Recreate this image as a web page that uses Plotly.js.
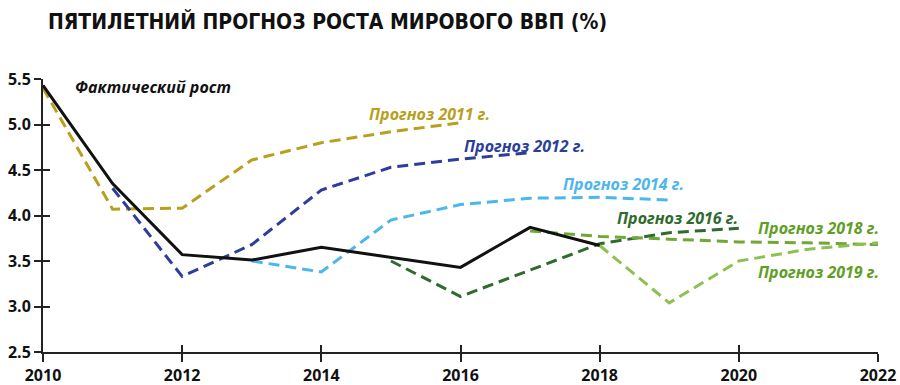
<!DOCTYPE html>
<html>
<head>
<meta charset="utf-8">
<script src="https://cdn.plot.ly/plotly-3.0.1.min.js"></script>
<style>html,body{margin:0;padding:0;background:#fff;}#chart{width:900px;height:385px;}</style>
</head>
<body>
<div id="chart"></div>
<script>
// ---- data ----
const actualYears = [2010, 2011, 2012, 2013, 2014, 2015, 2016, 2017, 2018];
const actualGrowth = [5.43, 4.35, 3.57, 3.51, 3.65, 3.54, 3.43, 3.87, 3.67];

const f2011Years = [2010, 2011, 2012, 2013, 2014, 2015, 2016];
const f2011Values = [5.40, 4.07, 4.08, 4.61, 4.80, 4.92, 5.02];

const f2012Years = [2011, 2012, 2013, 2014, 2015, 2016, 2017];
const f2012Values = [4.30, 3.33, 3.68, 4.28, 4.53, 4.62, 4.69];

const f2014Years = [2013, 2014, 2015, 2016, 2017, 2018, 2019];
const f2014Values = [3.50, 3.38, 3.95, 4.12, 4.19, 4.20, 4.17];

const f2016Years = [2015, 2016, 2017, 2018, 2019, 2020];
const f2016Values = [3.50, 3.11, 3.40, 3.69, 3.81, 3.86];

const f2018Years = [2017, 2018, 2019, 2020, 2021, 2022];
const f2018Values = [3.83, 3.77, 3.74, 3.71, 3.70, 3.68];

const f2019Years = [2018, 2019, 2020, 2021, 2022];
const f2019Values = [3.67, 3.04, 3.50, 3.63, 3.70];

const xTicks = [2010, 2012, 2014, 2016, 2018, 2020, 2022];
const yTicks = [2.5, 3.0, 3.5, 4.0, 4.5, 5.0, 5.5];
const yTickText = ['2.5', '3.0', '3.5', '4.0', '4.5', '5.0', '5.5'];

const labels = ['Фактический рост', 'Прогноз 2011 г.', 'Прогноз 2012 г.', 'Прогноз 2014 г.',
                'Прогноз 2016 г.', 'Прогноз 2018 г.', 'Прогноз 2019 г.'];

// ---- styles ----
const C = {
  actual: '#111111', f2011: '#B89F1C', f2012: '#2C3E9B', f2014: '#4DB6EA',
  f2016: '#2E6B2C', f2018: '#6FA834', f2019: '#8CC152'
};
const dash = '11px,6px';

function fc(x, y, color) {
  return {x: x, y: y, type: 'scatter', mode: 'lines', hoverinfo: 'skip',
          line: {color: color, width: 3, dash: dash}, showlegend: false};
}

const traces = [
  fc(f2011Years, f2011Values, C.f2011),
  fc(f2012Years, f2012Values, C.f2012),
  fc(f2014Years, f2014Values, C.f2014),
  fc(f2016Years, f2016Values, C.f2016),
  fc(f2018Years, f2018Values, C.f2018),
  fc(f2019Years, f2019Values, C.f2019),
  {x: actualYears, y: actualGrowth, type: 'scatter', mode: 'lines', hoverinfo: 'skip',
   line: {color: C.actual, width: 3}, showlegend: false},
  // helper trace for inside ticks
  {x: [2010], y: [2.5], xaxis: 'x2', yaxis: 'y2', type: 'scatter', mode: 'none',
   hoverinfo: 'skip', showlegend: false}
];

const labFont = (color) => ({family: 'Open Sans, DejaVu Sans', size: 16, color: color, weight: 'bold', style: 'italic'});
const tickFont = {family: 'Open Sans, DejaVu Sans', size: 16, color: '#111', weight: 'bold'};

const annotations = [
  {text: labels[0], x: 2011.58, y: 5.41, xanchor: 'center', color: C.actual},
  {text: labels[1], x: 2014.65, y: 5.12, xanchor: 'left', color: C.f2011},
  {text: labels[2], x: 2016.02, y: 4.76, xanchor: 'left', color: C.f2012},
  {text: labels[3], x: 2017.45, y: 4.35, xanchor: 'left', color: C.f2014},
  {text: labels[4], x: 2018.22, y: 3.97, xanchor: 'left', color: C.f2016},
  {text: labels[5], x: 2020.25, y: 3.86, xanchor: 'left', color: '#5E9E25'},
  {text: labels[6], x: 2020.25, y: 3.38, xanchor: 'left', color: '#5E9E25'}
].map(a => ({text: a.text, x: a.x, y: a.y, xref: 'x', yref: 'y', xanchor: a.xanchor,
             yanchor: 'middle', showarrow: false, font: labFont(a.color)}));

const layout = {
  width: 900, height: 385,
  margin: {l: 43, r: 22, t: 79, b: 33},
  paper_bgcolor: '#fff', plot_bgcolor: '#fff',
  title: {text: 'ПЯТИЛЕТНИЙ ПРОГНОЗ РОСТА МИРОВОГО ВВП (%)',
          x: 0.006, xanchor: 'left', xref: 'paper', yref: 'container', y: 0.943, yanchor: 'middle',
          font: {family: 'DejaVu Sans Condensed, Liberation Sans Narrow, DejaVu Sans', size: 21, color: '#111', weight: 'bold', stretch: 'condensed'}},
  xaxis: {range: [2010, 2022], tickvals: xTicks, ticktext: xTicks.map(String),
          showgrid: false, zeroline: false, showline: true, linecolor: '#222', linewidth: 2,
          ticks: 'outside', ticklen: 8, tickwidth: 2, tickcolor: '#222',
          ticklabeloverflow: 'allow', tickfont: tickFont, fixedrange: true},
  yaxis: {range: [2.5, 5.5], tickvals: yTicks, ticktext: yTickText,
          showgrid: false, zeroline: false, showline: true, linecolor: '#222', linewidth: 2,
          ticks: 'outside', ticklen: 7, tickwidth: 2, tickcolor: '#222',
          tickfont: tickFont, fixedrange: true},
  xaxis2: {range: [2010, 2022], tickvals: xTicks, overlaying: 'x', side: 'bottom',
           showgrid: false, zeroline: false, showline: false, showticklabels: false,
           ticks: 'inside', ticklen: 7, tickwidth: 2, tickcolor: '#222', fixedrange: true},
  yaxis2: {range: [2.5, 5.5], tickvals: yTicks, overlaying: 'y', side: 'left',
           showgrid: false, zeroline: false, showline: false, showticklabels: false,
           ticks: 'inside', ticklen: 7, tickwidth: 2, tickcolor: '#222', fixedrange: true},
  annotations: annotations
};

Plotly.newPlot('chart', traces, layout, {displayModeBar: false, staticPlot: true});
</script>
</body>
</html>
